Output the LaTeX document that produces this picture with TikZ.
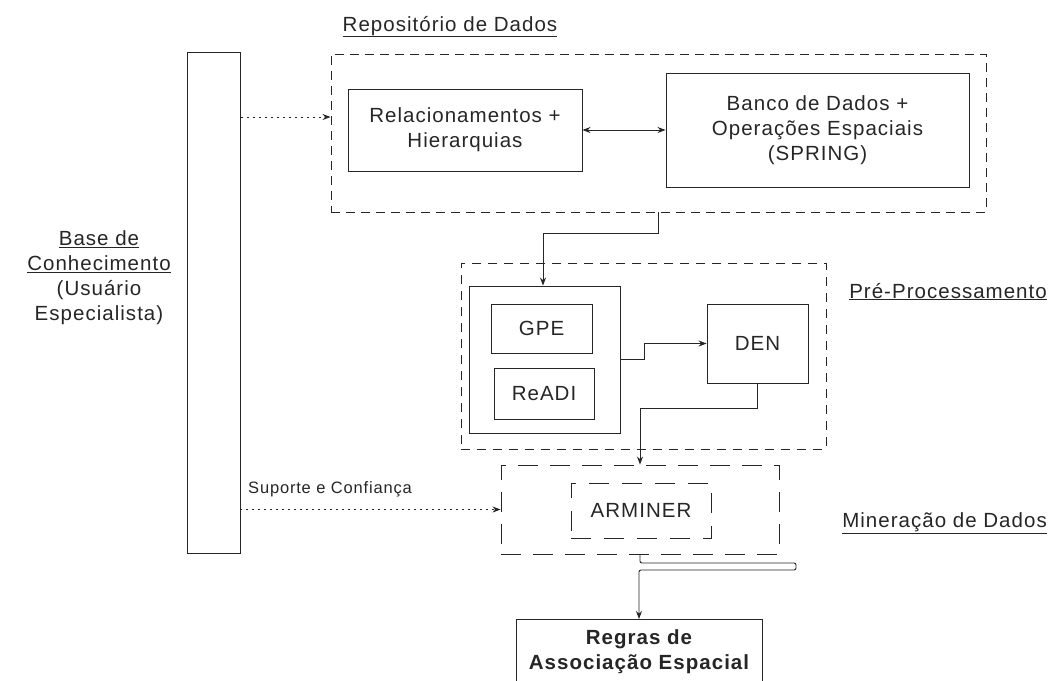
\documentclass[tikz,border=0pt]{standalone}
\usepackage{fontspec}
\setmainfont[LetterSpace=5]{Liberation Sans}
\usetikzlibrary{arrows.meta,calc}
\begin{document}
\begin{tikzpicture}[x=1pt,y=-1pt,
  every node/.style={font=\fontsize{20.5}{25}\selectfont, text=black!85},
  box/.style={draw=black!85, line width=0.9pt, rectangle, inner sep=0pt, align=center},
  dbox/.style={box, dash pattern=on 9pt off 6pt},
  lbox/.style={box, dash pattern=on 20pt off 12pt},
  conn/.style={draw=black!85, line width=0.9pt},
  arr/.style={conn, -{Stealth[length=8pt,width=6pt]}},
  darr/.style={conn, {Stealth[length=8pt,width=6pt]}-{Stealth[length=8pt,width=6pt]}},
  dotarr/.style={arr, dash pattern=on 2pt off 4pt},
  title/.style={anchor=base, inner sep=0pt},
  rtitle/.style={anchor=base east, inner sep=0pt}
]
\useasboundingbox (0,0) rectangle (1052,680);

% knowledge base column
\node[box, minimum width=53, minimum height=501] (kb) at (214,302.5) {};
\node[inner sep=0pt, align=center] (kbl) at (99,278) {\underline{Base de}\\\underline{Conhecimento}\\(Usuário\\Especialista)};

% data repository
\node[dbox, minimum width=655, minimum height=158] (repo) at (658.5,133) {};
\node[title] (repol) at (450,31) {\underline{Repositório de Dados}};
\node[box, minimum width=234, minimum height=82] (rel) at (465,130) {Relacionamentos +\\Hierarquias};
\node[box, minimum width=303, minimum height=114] (bdb) at (817.5,130) {Banco de Dados +\\Operações Espaciais\\(SPRING)};

% pre-processing
\node[box, dash pattern=on 9pt off 7pt, minimum width=365, minimum height=186] (pre) at (643.5,356) {};
\node[rtitle] (prel) at (1047,298) {\underline{Pré-Processamento}};
\node[box, minimum width=151, minimum height=147] (grp) at (544.5,359.5) {};
\node[box, minimum width=101, minimum height=49] (gpe) at (541.5,328.5) {GPE};
\node[box, minimum width=100, minimum height=51] (readi) at (544,393.5) {ReADI};
\node[box, minimum width=101, minimum height=79] (den) at (757.5,343.5) {DEN};

% data mining
\node[lbox, minimum width=278, minimum height=89] (mine) at (640,509.5) {};
\node[rtitle] (minel) at (1047,527) {\underline{Mineração de Dados}};
\node[box, dash pattern=on 20pt off 13pt, minimum width=140, minimum height=55] (arm) at (641,510.5) {ARMINER};

% result
\node[box, anchor=north, minimum width=246, minimum height=64, font=\bfseries\fontsize{20.5}{25}\selectfont] (rules) at (639,619) {Regras de\\Associação Espacial};

% support label
\node[title, font=\fontsize{16.5}{20}\selectfont] (supl) at (330,493) {Suporte e Confiança};

% bend points
\coordinate (c1) at (658,233);
\coordinate (c2) at (543,233);
\coordinate (c3) at (644,359.5);
\coordinate (c4) at (757.5,408);
\coordinate (c5) at (640,408);
\coordinate (c6) at (640,563);
\coordinate (c7) at (796,563);
\coordinate (c8) at (796,570);
\coordinate (c9) at (639,570);
\coordinate (k1) at (241,117);
\coordinate (k2) at (240,509.5);

% connectors
\draw[dotarr] (k1) -- (k1 -| repo.west);
\draw[darr] (rel.east) -- (bdb.west);
\draw[arr] (c1 |- repo.south) -- (c1) -- (c2) -- (c2 |- grp.north);
\draw[arr] (grp.east) -- (c3) |- (den.west);
\draw[arr] (den.south) -- (c4) -- (c5) -- (c5 |- mine.north);
\draw[dotarr] (k2) -- (mine.west);
\draw[arr, rounded corners=2pt] (mine.south) -- (c6) -- (c7) -- (c8) -- (c9) -- (rules.north);
\end{tikzpicture}
\end{document}
